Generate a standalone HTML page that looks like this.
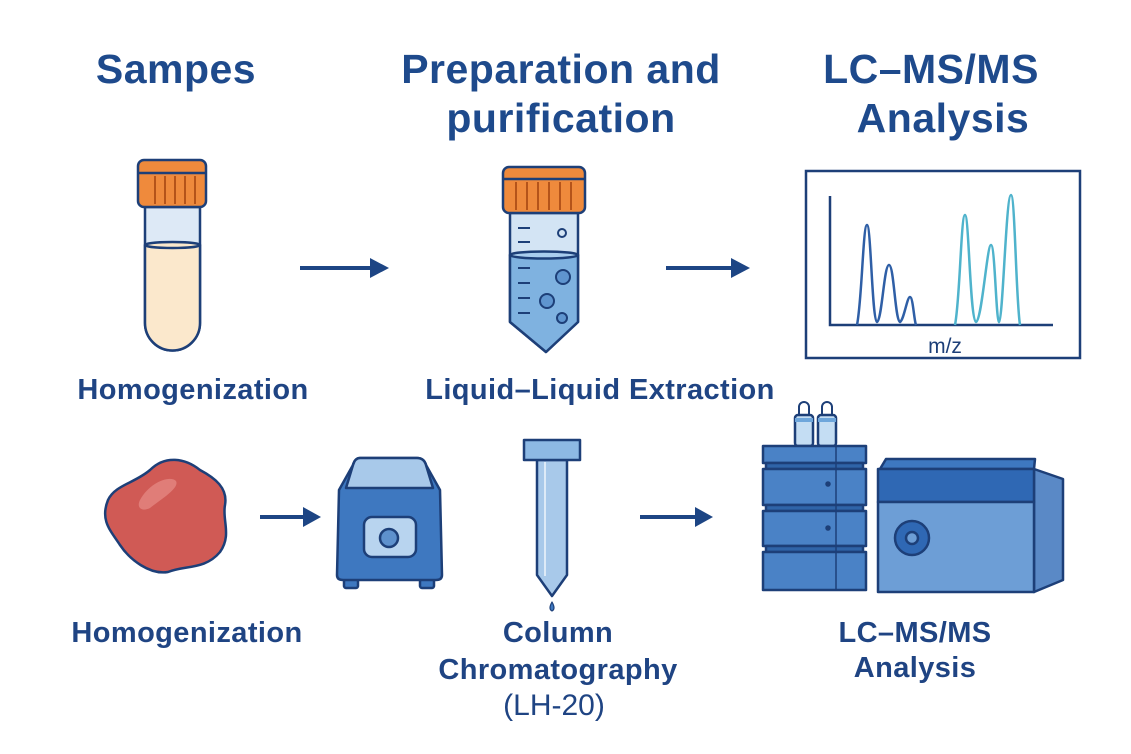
<!DOCTYPE html>
<html><head><meta charset="utf-8"><style>
html,body{margin:0;padding:0;background:#fff;}
svg{display:block;}
text{font-family:"Liberation Sans",sans-serif;fill:#1f4483;}
.t{font-size:41px;font-weight:bold;fill:#1e4a8c;letter-spacing:0.5px;}
.l{font-size:29px;font-weight:bold;letter-spacing:0.4px;}
</style></head><body>
<svg width="1131" height="754" viewBox="0 0 1131 754">
<!-- titles -->
<text class="t" x="176" y="83" text-anchor="middle">Sampes</text>
<text class="t" x="561" y="83" text-anchor="middle">Preparation and</text>
<text class="t" x="561" y="132" text-anchor="middle">purification</text>
<text class="t" x="931" y="83" text-anchor="middle">LC–MS/MS</text>
<text class="t" x="943" y="132" text-anchor="middle">Analysis</text>

<g stroke="#1d3f78" stroke-width="2.5" stroke-linejoin="round">
<!-- tube 1 -->
<path d="M145 207 V323 a27.5 27.5 0 0 0 55 0 V207 Z" fill="#dde9f6"/>
<path d="M145 245 V323 a27.5 27.5 0 0 0 55 0 V245 Z" fill="#fbe8cc"/>
<ellipse cx="172.5" cy="245" rx="27.5" ry="3" fill="#fbe8cc"/>
<rect x="138" y="160" width="68" height="47" rx="6" fill="#ef8a3c"/>
<g stroke="#b5541a" stroke-width="2"><line x1="155" y1="176" x2="155" y2="204"/><line x1="165" y1="176" x2="165" y2="204"/><line x1="175" y1="176" x2="175" y2="204"/><line x1="185" y1="176" x2="185" y2="204"/><line x1="195" y1="176" x2="195" y2="204"/></g>
<line x1="138" y1="173" x2="206" y2="173"/>

<!-- tube 2 -->
<path d="M510 213 V322 L546 352 L578 322 V213 Z" fill="#d3e4f4"/>
<path d="M510 255 V322 L546 352 L578 322 V255 Z" fill="#7fb2e0"/>
<ellipse cx="544" cy="255" rx="34" ry="3.5" fill="#a9cdee"/>
<g stroke-width="2"><line x1="518" y1="228" x2="530" y2="228"/><line x1="518" y1="242" x2="530" y2="242"/><line x1="518" y1="268" x2="530" y2="268"/><line x1="518" y1="283" x2="530" y2="283"/><line x1="518" y1="298" x2="530" y2="298"/><line x1="518" y1="313" x2="530" y2="313"/></g>
<circle cx="562" cy="233" r="4" fill="#d3e4f4" stroke-width="2"/>
<circle cx="563" cy="277" r="7" fill="#5f95cf" stroke-width="2"/>
<circle cx="547" cy="301" r="7" fill="#5f95cf" stroke-width="2"/>
<circle cx="562" cy="318" r="5" fill="#5f95cf" stroke-width="2"/>
<rect x="503" y="167" width="82" height="46" rx="6" fill="#ef8a3c"/>
<g stroke="#b5541a" stroke-width="2"><line x1="516" y1="182" x2="516" y2="210"/><line x1="527" y1="182" x2="527" y2="210"/><line x1="538" y1="182" x2="538" y2="210"/><line x1="549" y1="182" x2="549" y2="210"/><line x1="560" y1="182" x2="560" y2="210"/><line x1="571" y1="182" x2="571" y2="210"/></g>
<line x1="503" y1="179" x2="585" y2="179"/>
</g>

<!-- arrows -->
<g fill="#1d4584" stroke="#1d4584">
<line x1="300" y1="268" x2="372" y2="268" stroke-width="4"/><path d="M370 258 L389 268 L370 278 Z" stroke="none"/>
<line x1="666" y1="268" x2="734" y2="268" stroke-width="4"/><path d="M731 258 L750 268 L731 278 Z" stroke="none"/>
<line x1="260" y1="517" x2="305" y2="517" stroke-width="4"/><path d="M303 507 L321 517 L303 527 Z" stroke="none"/>
<line x1="640" y1="517" x2="697" y2="517" stroke-width="4"/><path d="M695 507 L713 517 L695 527 Z" stroke="none"/>
</g>

<!-- spectrum -->
<rect x="806" y="171" width="274" height="187" fill="#fff" stroke="#1d3f78" stroke-width="2.5"/>
<polyline points="830,196 830,325 1053,325" fill="none" stroke="#1d3f78" stroke-width="2.5"/>
<path d="M857 325 C862 300 863 225 867 225 C871 225 872 320 877 322 C882 320 884 265 889 265 C894 265 895 320 900 322 C904 320 907 297 910 297 C913 297 914 320 916 325" fill="none" stroke="#2f5fa6" stroke-width="2.5"/>
<path d="M955 325 C960 300 961 215 965 215 C969 215 970 320 976 322 C982 320 987 245 991 245 C995 245 996 320 999 322 C1003 320 1006 195 1011 195 C1015 195 1016 300 1020 325" fill="none" stroke="#4fb3cc" stroke-width="2.5"/>
<text x="945" y="353" text-anchor="middle" style="font-size:21px;fill:#1d3f78">m/z</text>

<text class="l" x="193" y="399" text-anchor="middle">Homogenization</text>
<text class="l" x="600" y="399" text-anchor="middle">Liquid–Liquid Extraction</text>

<g stroke="#1d3f78" stroke-width="2.5" stroke-linejoin="round">
<!-- tissue -->
<path d="M150 470 C165 455 185 458 200 470 C215 478 228 488 225 505 C222 520 232 535 220 552 C205 570 185 565 168 572 C150 575 130 560 120 545 C110 530 100 520 108 500 C115 485 135 483 150 470 Z" fill="#d05a55"/>
<path d="M140 500 C150 482 170 475 176 481 C180 488 160 500 150 508 C142 512 136 508 140 500 Z" fill="#e07d78" stroke="none"/>
<!-- homogenizer -->
<rect x="344" y="578" width="14" height="10" rx="2" fill="#3e78c0"/>
<rect x="420" y="578" width="14" height="10" rx="2" fill="#3e78c0"/>
<path d="M360 458 H417 Q424 458 426 465 L440 490 L442 575 Q442 580 436 580 H343 Q337 580 337 575 L339 490 L353 465 Q355 458 360 458 Z" fill="#3e78c0"/>
<path d="M360 458 H417 Q424 458 426 465 L433 488 H346 L353 465 Q355 458 360 458 Z" fill="#a8c9ea"/>
<rect x="364" y="517" width="52" height="40" rx="8" fill="#b8d4ef"/>
<circle cx="389" cy="538" r="9" fill="#5e91cd"/>
<!-- column -->
<path d="M537 460 V575 L552 596 L567 575 V460 Z" fill="#a8c9ea"/>
<line x1="545" y1="462" x2="545" y2="576" stroke="#ddeaf7" stroke-width="2"/>
<rect x="524" y="440" width="56" height="20" fill="#8db9e4"/>
<path d="M552 602 Q548 609 552 611 Q556 609 552 602 Z" fill="#3e78c0" stroke-width="1.2"/>
<!-- LC stack -->
<rect x="795" y="415" width="18" height="31" rx="3" fill="#c4ddf3"/>
<rect x="818" y="415" width="18" height="31" rx="3" fill="#c4ddf3"/>
<path d="M799 415 v-8 a5 5 0 0 1 10 0 v8" fill="none" stroke-width="2"/>
<path d="M822 415 v-8 a5 5 0 0 1 10 0 v8" fill="none" stroke-width="2"/>
<rect x="795" y="418" width="18" height="4" fill="#6ea6db" stroke="none"/>
<rect x="818" y="418" width="18" height="4" fill="#6ea6db" stroke="none"/>
<rect x="763" y="446" width="103" height="17" fill="#4a82c6"/>
<rect x="766" y="463" width="97" height="6" fill="#2f64a8"/>
<rect x="763" y="469" width="103" height="36" fill="#4a82c6"/>
<rect x="766" y="505" width="97" height="6" fill="#2f64a8"/>
<rect x="763" y="511" width="103" height="35" fill="#4a82c6"/>
<rect x="766" y="546" width="97" height="6" fill="#2f64a8"/>
<rect x="763" y="552" width="103" height="38" fill="#4a82c6"/>
<g stroke-width="1.5"><line x1="836" y1="446" x2="836" y2="590"/></g>
<circle cx="828" cy="484" r="1.5" fill="#1d3f78"/>
<circle cx="828" cy="528" r="1.5" fill="#1d3f78"/>
<!-- MS box -->
<path d="M1034 469 L1063 479 V580 L1034 592 Z" fill="#5a89c6"/>
<path d="M880 469 L886 459 H1035 L1034 469 Z" fill="#3e78c0"/>
<rect x="878" y="469" width="156" height="33" fill="#2f68b4"/>
<rect x="878" y="502" width="156" height="90" fill="#6d9ed6"/>
<circle cx="912" cy="538" r="17" fill="#2f68b4"/>
<circle cx="912" cy="538" r="6" fill="#6d9ed6"/>
</g>

<text class="l" x="187" y="642" text-anchor="middle">Homogenization</text>
<text class="l" x="558" y="642" text-anchor="middle">Column</text>
<text class="l" x="558" y="679" text-anchor="middle">Chromatography</text>
<text x="554" y="715" text-anchor="middle" style="font-size:30px">(LH-20)</text>
<text class="l" x="915" y="642" text-anchor="middle">LC–MS/MS</text>
<text class="l" x="915" y="677" text-anchor="middle">Analysis</text>
</svg>
</body></html>
